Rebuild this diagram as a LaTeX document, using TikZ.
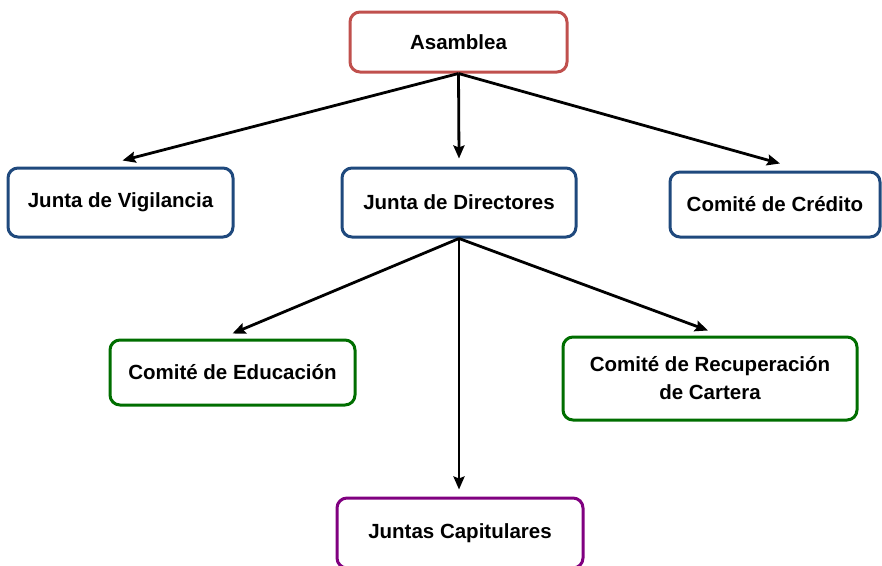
\documentclass[tikz,border=0pt]{standalone}
\usepackage{fontspec}
\setmainfont{Liberation Sans}
\usetikzlibrary{arrows.meta,calc}
\definecolor{cred}{RGB}{192,80,77}
\definecolor{cblue}{RGB}{31,73,125}
\definecolor{cgreen}{RGB}{0,110,0}
\definecolor{cpurple}{RGB}{128,0,128}
\tikzset{
  box/.style={draw=#1, line width=3pt, rounded corners=10pt, fill=white, align=center,
    font=\fontsize{20.5}{28}\selectfont\bfseries, inner sep=0pt},
  conn/.style={line width=2.8pt, -{Stealth[length=13pt,width=11pt,inset=2pt]}}
}
\begin{document}
\begin{tikzpicture}[x=1pt,y=-1pt]
\useasboundingbox (0,0) rectangle (882,565);
\node[box=cred, minimum width=217pt, minimum height=60pt] (A) at (458.5,42) {Asamblea};
\node[box=cblue, minimum width=225pt, minimum height=69pt] (JV) at (120.5,202.5) {Junta de Vigilancia};
\node[box=cblue, minimum width=234pt, minimum height=69pt] (JD) at (459,202.5) {Junta de Directores};
\node[box=cblue, minimum width=210pt, minimum height=65pt] (CC) at (775,204.5) {Comité de Crédito};
\node[box=cgreen, minimum width=245pt, minimum height=65pt] (CE) at (232.5,372.5) {Comité de Educación};
\node[box=cgreen, minimum width=294pt, minimum height=83pt] (CR) at (710,378.5) {Comité de Recuperación\\de Cartera};
\node[box=cpurple, minimum width=246pt, minimum height=70pt] (JC) at (460,533) {Juntas Capitulares};
\coordinate (tJV) at ($(JV.north)+(2,-6)$);
\coordinate (tJD) at ($(JD.north)+(0,-8)$);
\coordinate (tCC) at ($(CC.north)+(5,-7)$);
\coordinate (tCE) at ($(CE.north)+(0,-5)$);
\coordinate (tCR) at ($(CR.north)+(-2,-5)$);
\coordinate (tJC) at ($(JC.north)+(-1,-7)$);
\draw[conn] (A.south) -- (tJV);
\draw[conn] (A.south) -- (tJD);
\draw[conn] (A.south) -- (tCC);
\draw[conn] (JD.south) -- (tCE);
\draw[conn] (JD.south) -- (tCR);
\draw[conn] (JD.south) -- (tJC);
\end{tikzpicture}
\end{document}
